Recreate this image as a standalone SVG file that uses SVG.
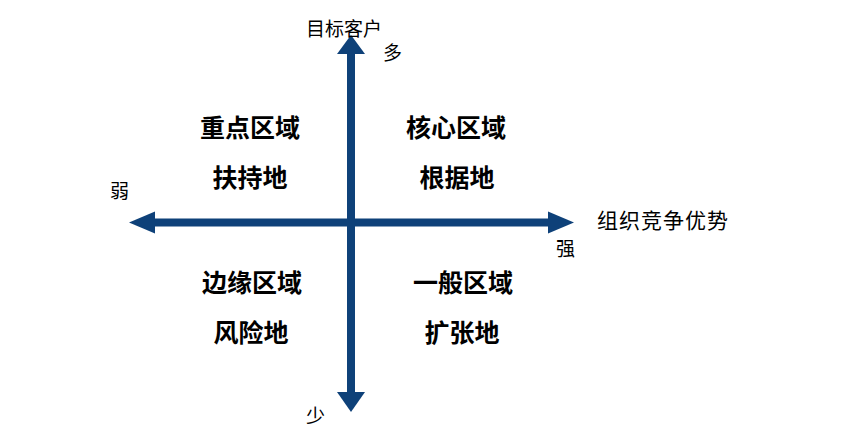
<svg xmlns="http://www.w3.org/2000/svg" width="852" height="440" viewBox="0 0 852 440">
<style>
.ax{fill:#0E4179;}
.lbl{font-family:"Liberation Sans","Noto Sans CJK SC",sans-serif;font-size:19px;fill:#000;}
.q{font-family:"Liberation Sans","Noto Sans CJK SC",sans-serif;font-size:25px;font-weight:bold;fill:#000;text-anchor:middle;}
</style>
<rect width="852" height="440" fill="#fff"/>
<g id="connectors">
  <g id="axis-h">
    <rect class="ax" x="150" y="218.5" width="402" height="8"/>
    <polygon class="ax" points="129,222.5 155,211.5 155,233.5"/>
    <polygon class="ax" points="574,222.5 548,211.5 548,233.5"/>
  </g>
  <g id="axis-v">
    <rect class="ax" x="347" y="50" width="8" height="346"/>
    <polygon class="ax" points="351,35 337,54 365,54"/>
    <polygon class="ax" points="351,412 337,392 365,392"/>
  </g>
</g>
<g id="axis-labels">
  <text class="lbl" x="306" y="36" textLength="76">目标客户</text>
  <text class="lbl" x="383" y="60">多</text>
  <text class="lbl" x="306" y="423">少</text>
  <text class="lbl" x="110" y="198">弱</text>
  <text class="lbl" x="556" y="256">强</text>
  <text class="lbl" x="597" y="228" style="font-size:21px" textLength="131">组织竞争优势</text>
</g>
<g id="q1"><text class="q" x="456" y="137">核心区域</text><text class="q" x="457" y="187">根据地</text></g>
<g id="q2"><text class="q" x="250" y="137">重点区域</text><text class="q" x="250" y="187">扶持地</text></g>
<g id="q3"><text class="q" x="252" y="292">边缘区域</text><text class="q" x="251" y="342">风险地</text></g>
<g id="q4"><text class="q" x="463" y="292">一般区域</text><text class="q" x="462" y="342">扩张地</text></g>
</svg>
